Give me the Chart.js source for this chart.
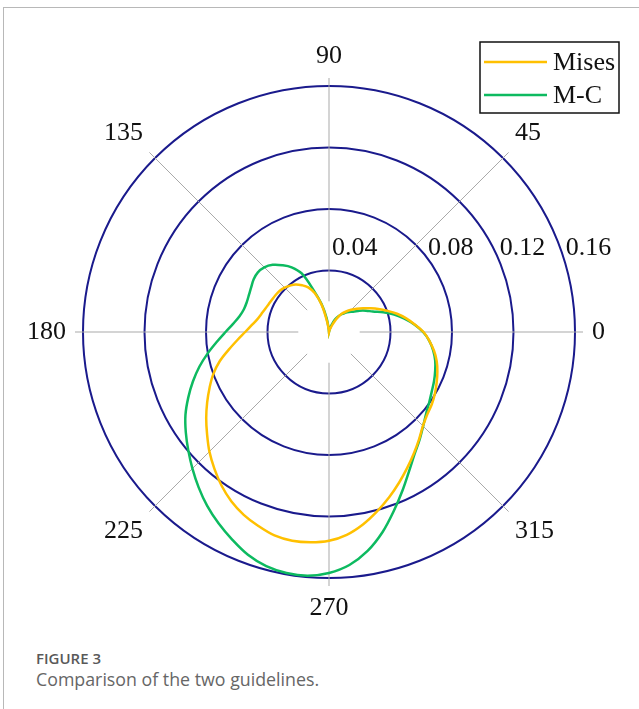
<!DOCTYPE html>
<html>
<head>
<meta charset="utf-8">
<title>Comparison of the two guidelines</title>
<script src="https://cdn.jsdelivr.net/npm/chart.js@4.4.1/dist/chart.umd.min.js"></script>
<style>
  html, body { margin: 0; padding: 0; background: #fff; }
  body { width: 639px; height: 709px; position: relative; overflow: hidden; }
  #frame { position: absolute; left: 3px; top: 7px; width: 640px; height: 710px;
           border-top: 1px solid #b8b8b8; border-left: 1px solid #b8b8b8; }
  #wrap { position: absolute; left: 0; top: 0; width: 639px; height: 640px; }
  .caption { position: absolute; left: 36px; top: 648px; font-family: "Open Sans", sans-serif; }
  .caption .num { font-size: 15px; font-weight: 600; color: #595959; line-height: 20px; }
  .caption .txt { font-size: 17.8px; color: #666; line-height: 22px; }
</style>
</head>
<body>
<div id="frame"></div>
<div id="wrap"><canvas id="polar"></canvas></div>
<div class="caption">
  <div class="num">FIGURE 3</div>
  <div class="txt">Comparison of the two guidelines.</div>
</div>
<script>
(() => {

  // angle of every sample, degrees, counter-clockwise from the right
  const angles = [
      0,   5,  10,  15,  20,  25,  30,  35,  40,  45,  50,  55,
     60,  65,  70,  75,  80,  85,  90,  95, 100, 105, 110, 115,
    120, 125, 130, 135, 140, 145, 150, 155, 160, 165, 170, 175,
    180, 185, 190, 195, 200, 205, 210, 215, 220, 225, 230, 235,
    240, 245, 250, 255, 260, 265, 270, 275, 280, 285, 290, 295,
    300, 305, 310, 315, 320, 325, 330, 335, 340, 345, 350, 355
  ];

  // Mises curve
  const misesValues = [
    0.0615, 0.0560, 0.0510, 0.0458, 0.0403, 0.0354, 0.0308, 0.0270, 0.0236, 0.0204, 0.0174, 0.0144,
    0.0102, 0.0055, 0.0025, 0.0010, 0.0000, 0.0000, 0.0000, 0.0012, 0.0065, 0.0180, 0.0268, 0.0320,
    0.0351, 0.0378, 0.0394, 0.0408, 0.0418, 0.0422, 0.0426, 0.0432, 0.0441, 0.0455, 0.0474, 0.0505,
    0.0545, 0.0598, 0.0662, 0.0736, 0.0801, 0.0857, 0.0915, 0.0975, 0.1035, 0.1100, 0.1160, 0.1219,
    0.1271, 0.1312, 0.1343, 0.1370, 0.1379, 0.1373, 0.1358, 0.1324, 0.1271, 0.1208, 0.1144, 0.1080,
    0.1019, 0.0963, 0.0911, 0.0864, 0.0834, 0.0817, 0.0796, 0.0773, 0.0750, 0.0725, 0.0693, 0.0655
  ];

  // M-C curve
  const mcValues = [
    0.0612, 0.0557, 0.0498, 0.0439, 0.0376, 0.0314, 0.0278, 0.0242, 0.0205, 0.0184, 0.0162, 0.0141,
    0.0115, 0.0086, 0.0050, 0.0020, 0.0000, 0.0000, 0.0000, 0.0020, 0.0095, 0.0190, 0.0285, 0.0420,
    0.0486, 0.0530, 0.0570, 0.0595, 0.0604, 0.0598, 0.0584, 0.0574, 0.0569, 0.0573, 0.0591, 0.0625,
    0.0673, 0.0732, 0.0801, 0.0873, 0.0942, 0.1010, 0.1078, 0.1137, 0.1195, 0.1256, 0.1319, 0.1381,
    0.1437, 0.1490, 0.1542, 0.1577, 0.1592, 0.1591, 0.1567, 0.1521, 0.1446, 0.1347, 0.1236, 0.1134,
    0.1043, 0.0970, 0.0916, 0.0866, 0.0825, 0.0796, 0.0772, 0.0754, 0.0735, 0.0715, 0.0688, 0.0655
  ];

  const seriesNames = ['Mises', 'M-C'];
  const radialTicks = [0.04, 0.08, 0.12, 0.16];
  const directionLabels = [0, 45, 90, 135, 180, 225, 270, 315];

  const colors = { mises: '#ffc000', mc: '#0dba60', grid: '#1a1a8c', spoke: '#a9a9a9' };
  const serif = "'Liberation Serif', 'Times New Roman', serif";
  const rMax = 0.1652; // spokes run a little past the 0.16 ring

  /* radar goes clockwise, the figure goes counter-clockwise:
   * arr (Arr) values in angle order
   * return Arr in radar order
   */
  function ccw(arr) {
    return arr.map((v, i) => arr[(arr.length - i) % arr.length]);
  }

  const labels = ccw(angles);

  // keep the middle of the spokes blank, as in the figure
  const centreMask = {
    id: 'centreMask',
    beforeDatasetsDraw(chart) {
      const s = chart.scales.r, ctx = chart.ctx;
      ctx.save();
      ctx.fillStyle = '#fff';
      ctx.beginPath();
      ctx.arc(s.xCenter, s.yCenter, s.getDistanceFromCenterForValue(0.02), 0, Math.PI * 2);
      ctx.fill();
      ctx.restore();
    }
  };

  // angle labels round the rim and the ring values in a row above the centre
  const polarText = {
    id: 'polarText',
    afterDraw(chart) {
      const s = chart.scales.r, ctx = chart.ctx;
      const rim = s.getDistanceFromCenterForValue(radialTicks[radialTicks.length - 1]) + 17;
      ctx.save();
      ctx.font = `26px ${serif}`;
      ctx.fillStyle = '#111';
      labels.forEach((lab, i) => {
        if (!directionLabels.includes(lab)) return;
        const p = s.getPointPosition(i, rim);
        const deg = Math.round(s.getIndexAngle(i) * 180 / Math.PI) % 360;
        ctx.textAlign = (deg === 0 || deg === 180) ? 'center' : (deg < 180 ? 'left' : 'right');
        ctx.textBaseline = (deg === 90 || deg === 270) ? 'middle' : ((deg > 270 || deg < 90) ? 'bottom' : 'top');
        ctx.fillText(String(lab), p.x, p.y);
      });
      ctx.textAlign = 'left';
      ctx.textBaseline = 'alphabetic';
      const rowY = 77;
      radialTicks.forEach((v) => {
        const r = s.getDistanceFromCenterForValue(v);
        const dx = Math.sqrt(Math.max(r * r - rowY * rowY, 0));
        ctx.fillText(v.toFixed(2), s.xCenter + dx + 3, s.yCenter - rowY);
      });
      ctx.restore();
    }
  };

  // boxed legend in the top right corner
  const legendBox = {
    id: 'legendBox',
    afterDraw(chart) {
      const ctx = chart.ctx;
      const x = chart.width - 159, y = 42, w = 139, h = 71;
      ctx.save();
      ctx.strokeStyle = '#111';
      ctx.lineWidth = 1.5;
      ctx.strokeRect(x, y, w, h);
      ctx.font = `26px ${serif}`;
      ctx.textBaseline = 'middle';
      ctx.fillStyle = '#111';
      chart.data.datasets.forEach((ds, i) => {
        const ly = y + 20 + i * 33;
        ctx.strokeStyle = ds.borderColor;
        ctx.lineWidth = 2.5;
        ctx.beginPath();
        ctx.moveTo(x + 4, ly);
        ctx.lineTo(x + 67, ly);
        ctx.stroke();
        ctx.fillText(ds.label, x + 73, ly + 1);
      });
      ctx.restore();
    }
  };

  new Chart(document.getElementById('polar'), {
    type: 'radar',
    data: {
      labels,
      datasets: [{
        label: seriesNames[0],
        data: ccw(misesValues),
        borderColor: colors.mises,
        borderWidth: 2.5,
        fill: false,
        pointRadius: 0,
        tension: 0.35
      }, {
        label: seriesNames[1],
        data: ccw(mcValues),
        borderColor: colors.mc,
        borderWidth: 2.5,
        fill: false,
        pointRadius: 0,
        tension: 0.35
      }]
    },
    options: {
      responsive: true,
      maintainAspectRatio: false,
      animation: false,
      layout: { padding: { left: 75, right: 56, top: 78, bottom: 54 } },
      plugins: { legend: { display: false }, tooltip: { enabled: false } },
      scales: {
        r: {
          min: 0,
          max: rMax,
          startAngle: 90,
          ticks: { display: false, stepSize: 0.04, includeBounds: false },
          grid: { circular: true, color: colors.grid, lineWidth: 2 },
          angleLines: {
            color: colors.spoke,
            lineWidth: (c) => directionLabels.includes(labels[c.index]) ? 1 : 0
          },
          pointLabels: { display: false }
        }
      }
    },
    plugins: [centreMask, polarText, legendBox]
  });

})();
</script>
</body>
</html>
